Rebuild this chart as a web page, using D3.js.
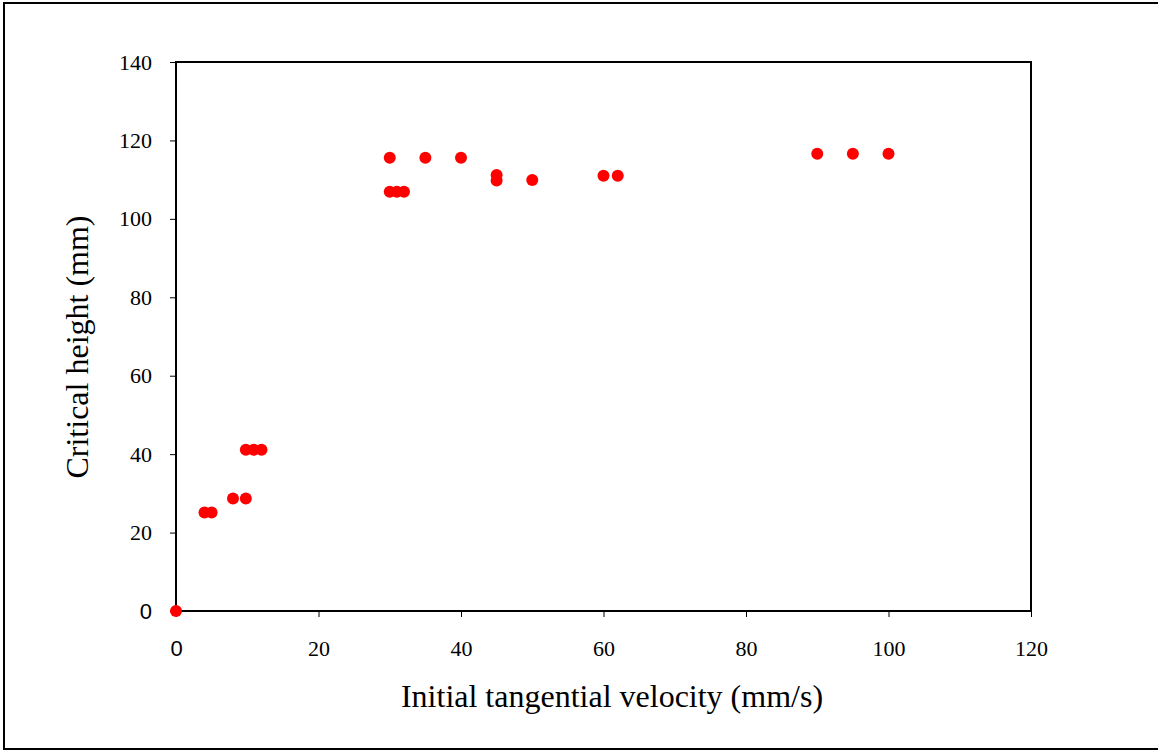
<!DOCTYPE html>
<html>
<head>
<meta charset="utf-8">
<script src="https://cdn.jsdelivr.net/npm/d3@7"></script>
<style>
  body { margin: 0; background: #fff; }
  svg { display: block; }
</style>
</head>
<body>
<svg id="canvas" width="1158" height="750"></svg>
<script>
// initial tangential velocity (mm/s) vs critical height (mm)
const velocity = [0, 4, 5, 8, 9.8, 9.8, 10.9, 12, 30, 35, 40, 30, 31, 32, 45, 45, 50, 60, 62, 90, 95, 100];
const height = [0, 25.1, 25.1, 28.7, 28.7, 41.1, 41.1, 41.1, 115.6, 115.6, 115.6, 106.9, 106.9, 106.9, 111.2, 109.8, 109.9, 111, 111, 116.6, 116.6, 116.6];
const xTicks = [0, 20, 40, 60, 80, 100, 120];
const yTicks = [0, 20, 40, 60, 80, 100, 120, 140];

const svg = d3.select("#canvas");
const plotLeft = 176, plotRight = 1031, plotTop = 62, plotBottom = 611;

const x = d3.scaleLinear().domain([0, 120]).range([plotLeft, plotRight]);
const y = d3.scaleLinear().domain([0, 140]).range([plotBottom, plotTop]);

// outer frame (right side runs off the page)
svg.append("rect")
  .attr("x", 4).attr("y", 3)
  .attr("width", 1170).attr("height", 746)
  .attr("fill", "none").attr("stroke", "#000").attr("stroke-width", 2);

const serif = "'Liberation Serif', 'Times New Roman', serif";
const fontFor = (d) => (d === 0 ? "'Liberation Sans', Arial, sans-serif" : serif);

const xAxis = svg.append("g")
  .attr("transform", `translate(0,${plotBottom})`)
  .call(d3.axisBottom(x).tickValues(xTicks).tickSize(6).tickPadding(23).tickFormat(d3.format("d")));
xAxis.select(".domain").remove();
xAxis.selectAll("line").attr("stroke", "#000").attr("stroke-width", 1);
xAxis.selectAll("text")
  .attr("font-family", fontFor)
  .attr("font-size", 22).attr("fill", "#000");

const yAxis = svg.append("g")
  .attr("transform", `translate(${plotLeft},0)`)
  .call(d3.axisLeft(y).tickValues(yTicks).tickSize(6).tickPadding(18).tickFormat(d3.format("d")));
yAxis.select(".domain").remove();
yAxis.selectAll("line").attr("stroke", "#000").attr("stroke-width", 1);
yAxis.selectAll("text")
  .attr("font-family", fontFor)
  .attr("font-size", 22).attr("fill", "#000");

// plot box
svg.append("rect")
  .attr("x", plotLeft).attr("y", plotTop)
  .attr("width", plotRight - plotLeft).attr("height", plotBottom - plotTop)
  .attr("fill", "none").attr("stroke", "#000").attr("stroke-width", 2);

svg.selectAll("circle.pt")
  .data(velocity)
  .enter()
  .append("circle")
  .attr("class", "pt")
  .attr("cx", (d) => x(d))
  .attr("cy", (d, i) => y(height[i]))
  .attr("r", 6)
  .attr("fill", "#ff0000");

svg.append("text")
  .attr("x", 612)
  .attr("y", 707)
  .attr("text-anchor", "middle")
  .attr("font-family", serif)
  .attr("font-size", 32)
  .text("Initial tangential velocity (mm/s)");

svg.append("text")
  .attr("transform", "translate(88,347) rotate(-90)")
  .attr("text-anchor", "middle")
  .attr("font-family", serif)
  .attr("font-size", 32)
  .text("Critical height (mm)");
</script>
</body>
</html>
